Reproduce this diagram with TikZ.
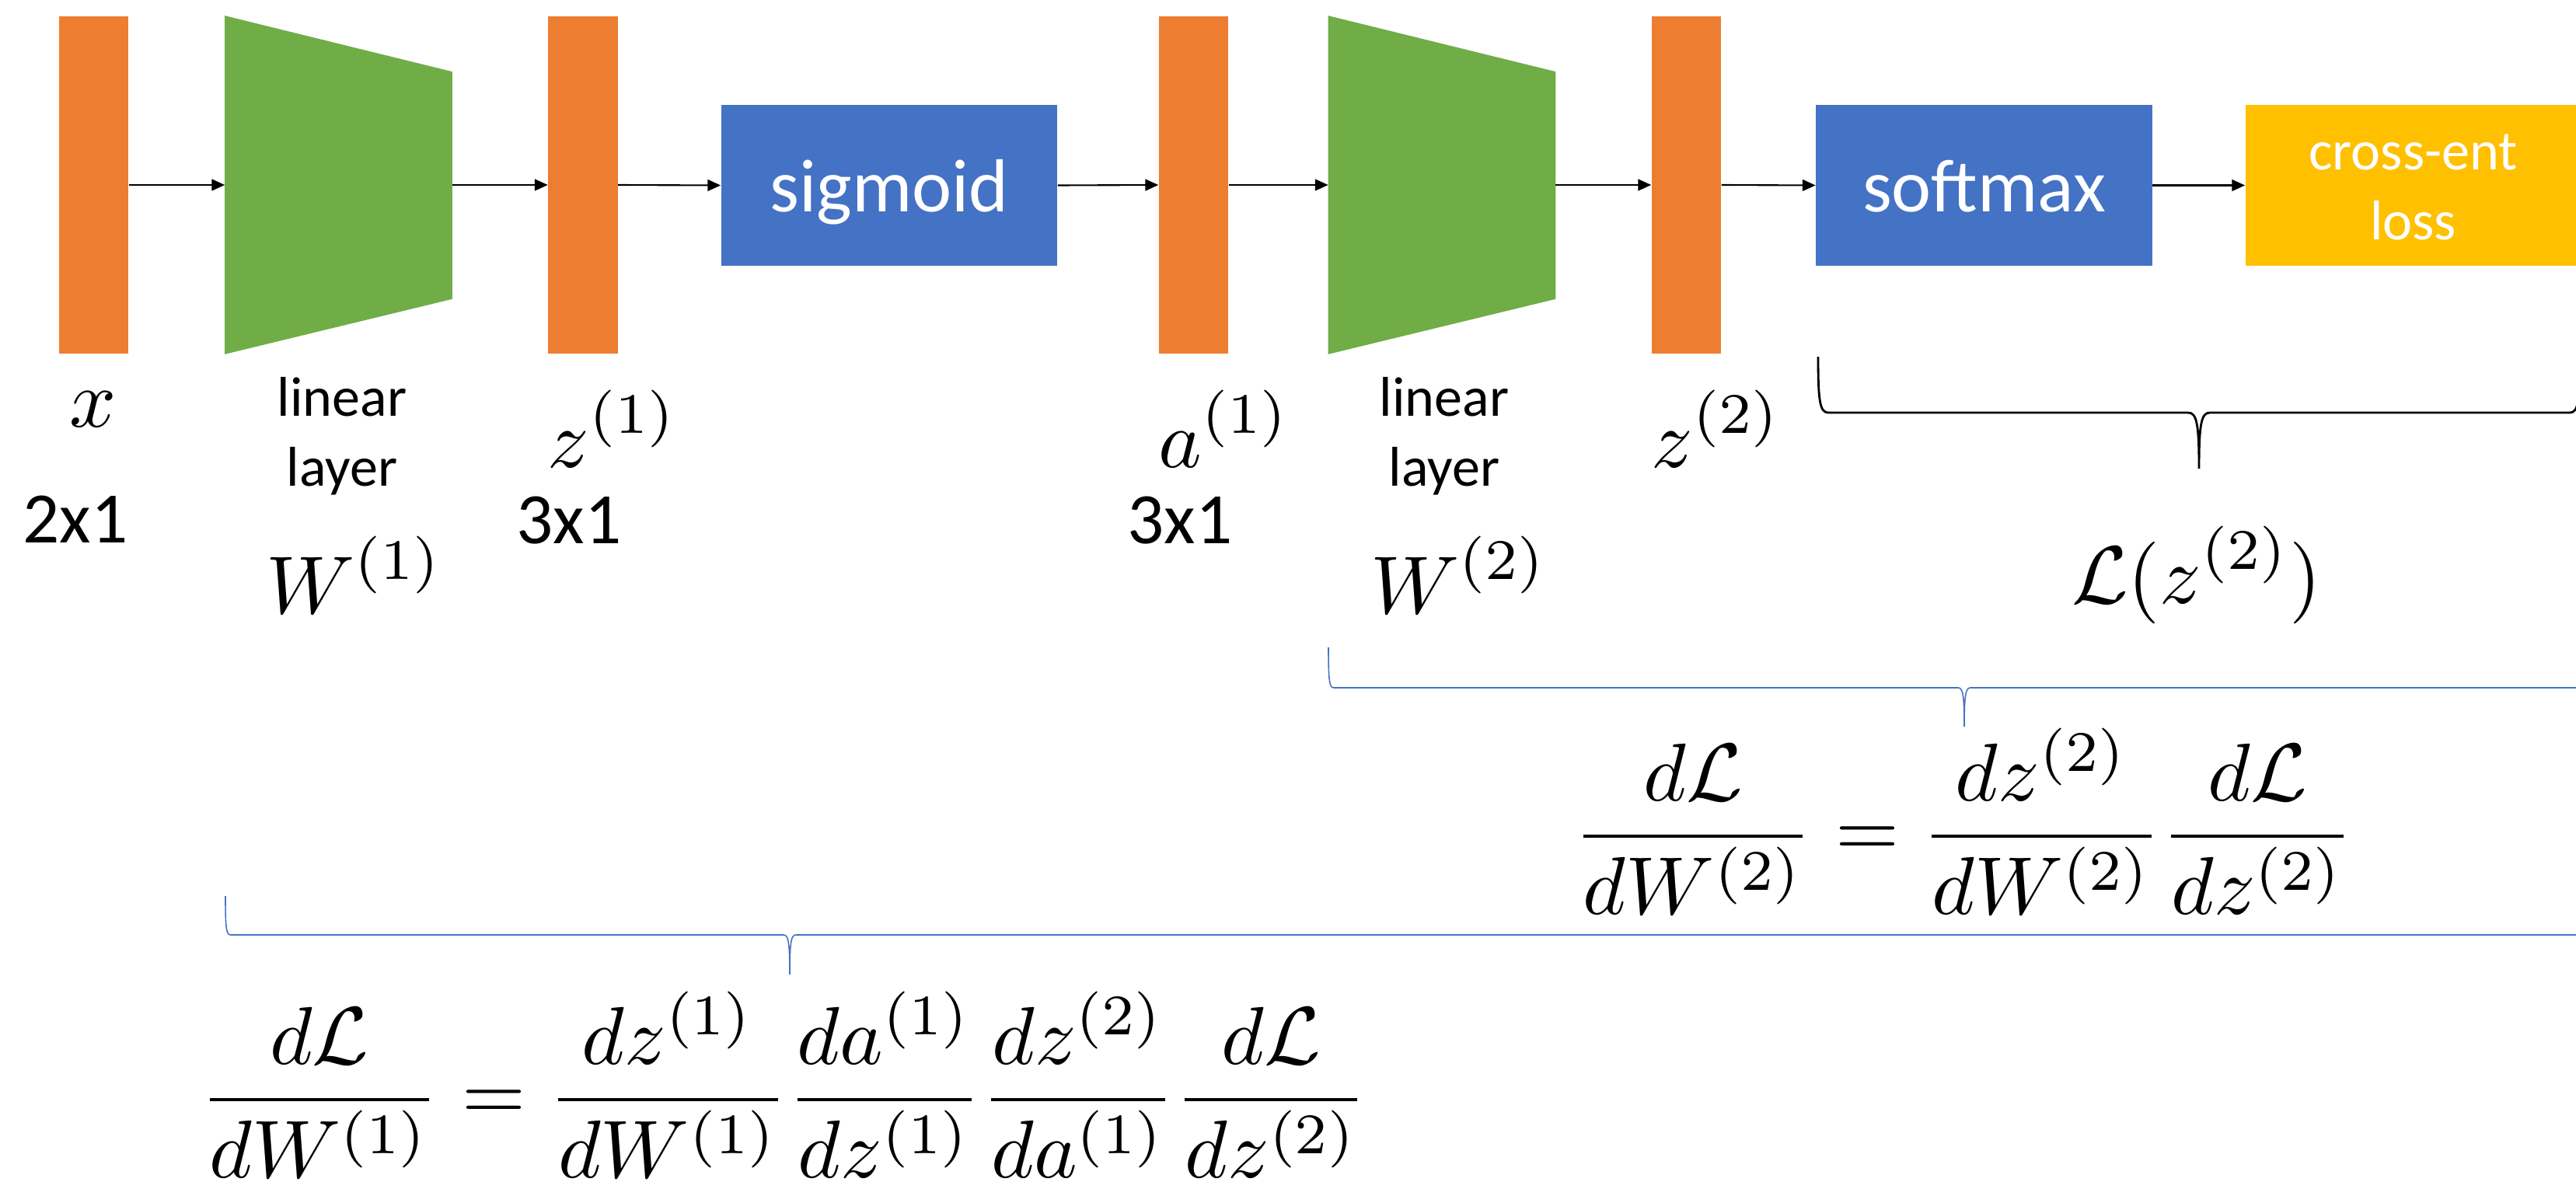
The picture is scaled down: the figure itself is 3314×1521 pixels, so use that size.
\documentclass[tikz,border=0pt]{standalone}
\usepackage{fontspec}
\newfontfamily\calib{Carlito}
\usetikzlibrary{arrows.meta,calc}
\definecolor{orng}{HTML}{ED7D31}
\definecolor{grn}{HTML}{70AD47}
\definecolor{blu}{HTML}{4472C4}
\definecolor{ylw}{HTML}{FFC000}
\newcommand{\mthree}[1]{\scalebox{3}{$\displaystyle #1$}}
\begin{document}
\begin{tikzpicture}[x=0.01cm,y=-0.01cm,
  vecbar/.style={fill=orng, inner sep=0pt, minimum width=0.89cm, minimum height=4.34cm},
  layerbox/.style={inner sep=0pt, minimum width=2.91cm, minimum height=4.34cm},
  opbox/.style={fill=blu, inner sep=0pt, minimum width=4.32cm, text height=1.37cm, text depth=0.70cm, text=white, font=\calib\fontsize{27.5}{33}\selectfont},
  lossbox/.style={fill=ylw, inner sep=0pt, minimum width=4.31cm, minimum height=2.07cm},
  arr/.style={draw=black, line width=0.6pt, -{Triangle[length=4.8pt,width=4.2pt]}},
  mathlbl/.style={inner sep=0pt, anchor=base},
  dimlbl/.style={inner sep=0pt, anchor=base, font=\calib\fontsize{26.5}{32}\selectfont},
  smalltxt/.style={inner sep=0pt, align=center, font=\calib\fontsize{20.5}{25.4}\selectfont},
  bigbrace/.style={draw=black, line width=0.8pt},
  bluebrace/.style={draw=blu, line width=0.45pt}
]
\useasboundingbox (0,0) rectangle (3314,1521);
\clip (0,0) rectangle (3314,1521);

% top row
\node[vecbar] (xv) at (120.5,238) {};
\node[layerbox] (L1) at (435.5,238) {};
\fill[grn] (L1.north west) -- ($(L1.north east)+(0,72)$) -- ($(L1.south east)+(0,-71)$) -- (L1.south west) -- cycle;
\node[vecbar] (z1) at (750,238) {};
\node[opbox] (sig) at (1144,238.5) {sigmoid};
\node[vecbar] (a1) at (1535.5,238) {};
\node[layerbox] (L2) at (1855,238) {};
\fill[grn] (L2.north west) -- ($(L2.north east)+(0,72)$) -- ($(L2.south east)+(0,-71)$) -- (L2.south west) -- cycle;
\node[vecbar] (z2) at (2169.5,238) {};
\node[opbox] (soft) at (2552.5,238.5) {softmax};
\node[lossbox] (ce) at (3104.5,238.5) {};
\node[smalltxt, text=white, anchor=base] (cetext) at (3104.5,308) {cross-ent\\loss};

% arrows
\draw[arr] (xv.east) -- (L1.west);
\draw[arr] (L1.east) -- (z1.west);
\draw[arr] (z1.east) -- (sig.west);
\draw[arr] (sig.east) -- (a1.west);
\draw[arr] (a1.east) -- (L2.west);
\draw[arr] (L2.east) -- (z2.west);
\draw[arr] (z2.east) -- (soft.west);
\draw[arr] (soft.east) -- (ce.west);

% labels
\node[mathlbl] (xlbl) at (120,549) {\mthree{x}};
\node[smalltxt, anchor=base] (lin1) at (440,625) {linear\\layer};
\node[dimlbl] (d1) at (97,698) {2x1};
\node[mathlbl] (W1) at (456,789) {\mthree{W^{(1)}}};
\node[mathlbl] (z1lbl) at (788,601) {\mthree{z^{(1)}}};
\node[dimlbl] (d2) at (732,699) {3x1};
\node[mathlbl] (a1lbl) at (1575,601) {\mthree{a^{(1)}}};
\node[dimlbl] (d3) at (1518,699) {3x1};
\node[smalltxt, anchor=base] (lin2) at (1858,625) {linear\\layer};
\node[mathlbl] (W2) at (1877,789) {\mthree{W^{(2)}}};
\node[mathlbl] (z2lbl) at (2208,601) {\mthree{z^{(2)}}};
\node[mathlbl] (Llbl) at (2826,776) {\mthree{\mathcal{L}(z^{(2)})}};

% braces
\draw[bigbrace] (2339,459) .. controls (2339,515) and (2341,531) .. (2352,531) -- (2815,531)
  .. controls (2826,531) and (2829,545) .. (2829,603)
  .. controls (2829,545) and (2832,531) .. (2843,531) -- (3306,531)
  .. controls (3317,531) and (3319,515) .. (3319,459);
\draw[bluebrace] (1709,833) .. controls (1709,875) and (1710,885) .. (1716,885) -- (2519,885)
  .. controls (2525,885) and (2527,893) .. (2527,935)
  .. controls (2527,893) and (2529,885) .. (2535,885) -- (3400,885);
\draw[bluebrace] (290,1153) .. controls (290,1195) and (291,1203) .. (297,1203) -- (1008,1203)
  .. controls (1014,1203) and (1016,1211) .. (1016,1254)
  .. controls (1016,1211) and (1018,1203) .. (1024,1203) -- (3400,1203);

% equations
\node[mathlbl] (eq2) at (2526,1102) {\mthree{\frac{d\mathcal{L}}{dW^{(2)}} = \frac{dz^{(2)}}{dW^{(2)}}\frac{d\mathcal{L}}{dz^{(2)}}}};
\node[mathlbl] (eq1) at (1008,1441) {\mthree{\frac{d\mathcal{L}}{dW^{(1)}} = \frac{dz^{(1)}}{dW^{(1)}}\frac{da^{(1)}}{dz^{(1)}}\frac{dz^{(2)}}{da^{(1)}}\frac{d\mathcal{L}}{dz^{(2)}}}};
\end{tikzpicture}
\end{document}
